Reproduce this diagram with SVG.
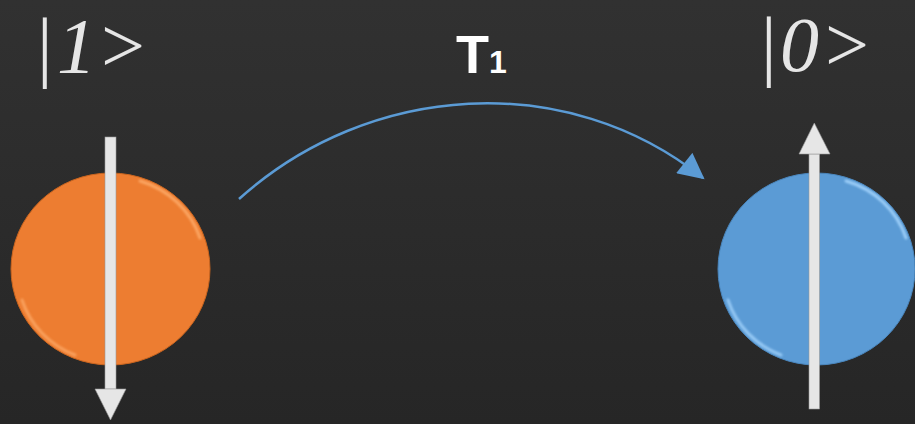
<svg xmlns="http://www.w3.org/2000/svg" width="915" height="424" viewBox="0 0 915 424">
<defs>
<linearGradient id="bg" x1="0" y1="0" x2="0" y2="1">
<stop offset="0" stop-color="#313131"/>
<stop offset="1" stop-color="#262626"/>
</linearGradient>
<marker id="ah" viewBox="0 0 26 26" refX="24" refY="13" markerWidth="27" markerHeight="26" markerUnits="userSpaceOnUse" orient="auto">
<path d="M0,0 L26,13 L0,26 z" fill="#5B9BD5"/>
</marker>
<filter id="soft" x="-20%" y="-20%" width="140%" height="140%"><feGaussianBlur stdDeviation="1.2"/></filter>
</defs>
<style>
.ket{font-family:"Liberation Serif","Times New Roman",serif;font-size:78px;fill:#e6e6e6}
.it{font-style:italic}
.lbl{font-family:"Liberation Sans",Arial,sans-serif;font-weight:bold;fill:#ffffff}
.spin{fill:#e6e6e6;stroke:#9a9a9a;stroke-width:0.6}
.rim{fill:none;stroke-width:3;stroke-linecap:round;filter:url(#soft)}
.conn{fill:none;stroke:#5B9BD5;stroke-width:2.5}
</style>
<rect width="915" height="424" fill="url(#bg)"/>

<g id="label-ket1">
<text class="ket" y="72"><tspan x="37">|</tspan><tspan x="57" class="it">1</tspan><tspan x="101">&gt;</tspan></text>
</g>
<g id="label-ket0">
<text class="ket" y="71"><tspan x="761">|</tspan><tspan x="780" class="it">0</tspan><tspan x="825">&gt;</tspan></text>
</g>
<g id="label-t1">
<text class="lbl" y="73"><tspan x="456" font-size="54">T</tspan><tspan x="489" font-size="32">1</tspan></text>
</g>

<g id="node-excited">
<ellipse cx="110.5" cy="269" rx="99.5" ry="96" fill="#ED7D31" stroke="#c8641f" stroke-width="1"/>
<path class="rim" d="M140,181 A91,88 0 0 1 200,238" stroke="#ffb070" opacity="0.8"/>
<path class="rim" d="M22,300 A91,88 0 0 0 75,355" stroke="#ffb070" opacity="0.7"/>
<rect class="spin" x="105" y="137" width="11" height="252"/>
<polygon class="spin" points="95,389 126,389 110.5,420"/>
</g>

<g id="node-ground">
<ellipse cx="816.5" cy="269" rx="98.5" ry="96" fill="#5B9BD5" stroke="#4a86bd" stroke-width="1"/>
<path class="rim" d="M846,181 A90,88 0 0 1 906,238" stroke="#a9d8ff" opacity="0.85"/>
<path class="rim" d="M728,300 A90,88 0 0 0 781,355" stroke="#a9d8ff" opacity="0.75"/>
<rect class="spin" x="809" y="154" width="10.5" height="255"/>
<polygon class="spin" points="799,154 830,154 814.3,123"/>
</g>

<g id="connectors">
<path class="conn" d="M239,199 C369,82 567,69 703,178" marker-end="url(#ah)"/>
</g>
</svg>
